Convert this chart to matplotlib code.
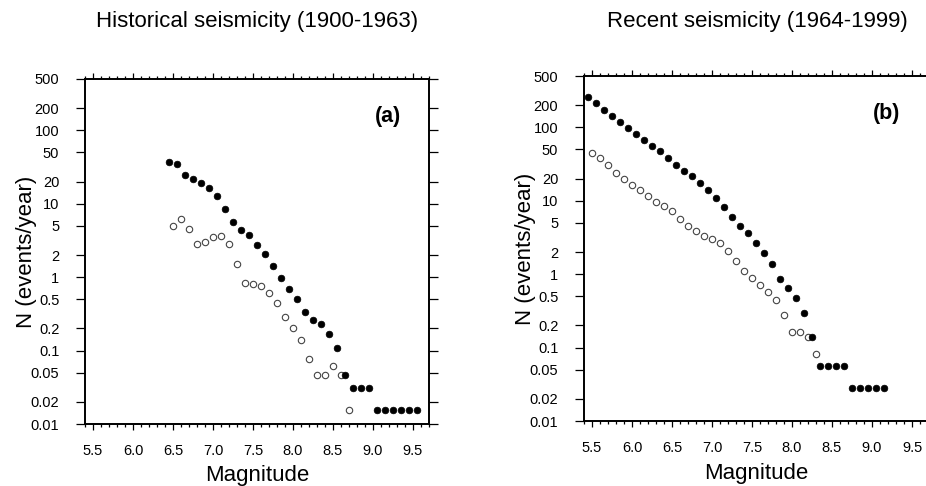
import matplotlib
matplotlib.use("Agg")
import matplotlib.pyplot as plt
from matplotlib.ticker import FixedLocator, FixedFormatter, MultipleLocator, NullLocator

plt.rcParams['font.family'] = ['Liberation Sans', 'DejaVu Sans']

# Panel (a): historical seismicity 1900-1963
hist_cum_mag = [6.45, 6.55, 6.65, 6.75, 6.85, 6.95, 7.05, 7.15, 7.25, 7.35, 7.45,
                7.55, 7.65, 7.75, 7.85, 7.95, 8.05, 8.15, 8.25, 8.35, 8.45, 8.55,
                8.65, 8.75, 8.85, 8.95, 9.05, 9.15, 9.25, 9.35, 9.45, 9.55]
hist_cum_n = [37.4, 34.4, 24.9, 21.9, 19.3, 16.2, 12.6, 8.6, 5.56, 4.33, 3.78,
              2.73, 2.08, 1.41, 0.98, 0.69, 0.51, 0.333, 0.262, 0.231, 0.169, 0.108,
              0.0469, 0.0313, 0.0313, 0.0313, 0.0156, 0.0156, 0.0156, 0.0156, 0.0156, 0.0156]
hist_inc_mag = [6.5, 6.6, 6.7, 6.8, 6.9, 7.0, 7.1, 7.2, 7.3, 7.4, 7.5, 7.6,
                7.7, 7.8, 7.9, 8.0, 8.1, 8.2, 8.3, 8.4, 8.5, 8.6, 8.7]
hist_inc_n = [5.01, 6.18, 4.51, 2.79, 3.03, 3.55, 3.62, 2.79, 1.50, 0.84, 0.81, 0.75,
              0.60, 0.44, 0.29, 0.20, 0.138, 0.076, 0.0469, 0.0469, 0.061, 0.0469, 0.0156]

# Panel (b): recent seismicity 1964-1999
rec_cum_mag = [5.45, 5.55, 5.65, 5.75, 5.85, 5.95, 6.05, 6.15, 6.25, 6.35, 6.45,
               6.55, 6.65, 6.75, 6.85, 6.95, 7.05, 7.15, 7.25, 7.35, 7.45, 7.55,
               7.65, 7.75, 7.85, 7.95, 8.05, 8.15, 8.25, 8.35, 8.45, 8.55, 8.65,
               8.75, 8.85, 8.95, 9.05, 9.15]
rec_cum_n = [261, 212, 170, 143, 118, 98, 81, 68, 55.8, 47.2, 38.3,
             30.8, 25.6, 21.4, 17.2, 14.0, 11.0, 8.2, 6.07, 4.58, 3.64, 2.64,
             1.97, 1.37, 0.855, 0.652, 0.467, 0.299, 0.139, 0.0556, 0.0556, 0.0556, 0.0556,
             0.0278, 0.0278, 0.0278, 0.0278, 0.0278]
rec_inc_mag = [5.5, 5.6, 5.7, 5.8, 5.9, 6.0, 6.1, 6.2, 6.3, 6.4, 6.5, 6.6, 6.7, 6.8,
               6.9, 7.0, 7.1, 7.2, 7.3, 7.4, 7.5, 7.6, 7.7, 7.8, 7.9, 8.0, 8.1, 8.2, 8.3]
rec_inc_n = [44.4, 38.3, 30.5, 24.0, 19.7, 16.5, 14.0, 11.5, 9.7, 8.4, 7.2, 5.70, 4.58, 3.88,
             3.31, 3.02, 2.66, 2.09, 1.53, 1.09, 0.90, 0.71, 0.575, 0.444, 0.275, 0.165, 0.165,
             0.138, 0.082]

yticks = [0.01, 0.02, 0.05, 0.1, 0.2, 0.5, 1, 2, 5, 10, 20, 50, 100, 200, 500]
ytick_labels = ['0.01', '0.02', '0.05', '0.1', '0.2', '0.5', '1', '2', '5',
                '10', '20', '50', '100', '200', '500']
xticks = [5.5, 6.0, 6.5, 7.0, 7.5, 8.0, 8.5, 9.0, 9.5]

fig = plt.figure(figsize=(9.26, 4.86), dpi=100)
ax1 = fig.add_axes([85/926, 62/486, 344/926, 345/486])
ax2 = fig.add_axes([584/926, 65/486, 344/926, 345/486])

panels = [
    (ax1, hist_cum_mag, hist_cum_n, hist_inc_mag, hist_inc_n,
     "Historical seismicity (1900-1963)", "(a)", 257, 5),
    (ax2, rec_cum_mag, rec_cum_n, rec_inc_mag, rec_inc_n,
     "Recent seismicity (1964-1999)", "(b)", 757, 6),
]

for ax, cm, cn, im, inn, title, tag, xc, xpad in panels:
    ax.plot(im, inn, 'o', ms=4.6, mfc='white', mec='#444444', mew=0.8, zorder=3)
    ax.plot(cm, cn, 'o', ms=4.8, mfc='black', mec='black', mew=0.5, zorder=4)
    ax.set_yscale('log')
    ax.set_xlim(5.4, 9.7)
    ax.set_ylim(0.01, 500)
    ax.yaxis.set_major_locator(FixedLocator(yticks))
    ax.yaxis.set_major_formatter(FixedFormatter(ytick_labels))
    ax.yaxis.set_minor_locator(NullLocator())
    ax.xaxis.set_major_locator(FixedLocator(xticks))
    ax.xaxis.set_minor_locator(MultipleLocator(0.1))
    ax.set_xticklabels([f"{v:.1f}" for v in xticks])
    ax.tick_params(which='both', direction='out', top=True, right=True,
                   labelsize=10.5, width=0.9, colors='black')
    ax.tick_params(axis='x', which='major', length=4.3, pad=10)
    ax.tick_params(axis='x', which='minor', length=2.5)
    ax.tick_params(axis='y', which='major', length=6.5, pad=12)
    for sp in ax.spines.values():
        sp.set_linewidth(1.4)
    fig.text(xc / 926, 1 - 21 / 486, title, fontsize=16, ha='center', va='center')
    ax.set_xlabel("Magnitude", fontsize=16, labelpad=xpad)
    ax.set_ylabel("N (events/year)", fontsize=16)
    ax.yaxis.set_label_coords(-0.14, 0.5)
    ax.text(0.88, 0.89, tag, transform=ax.transAxes, fontsize=15.5,
            fontweight='bold', ha='center', va='center')

fig.savefig("out.png", dpi=100)
